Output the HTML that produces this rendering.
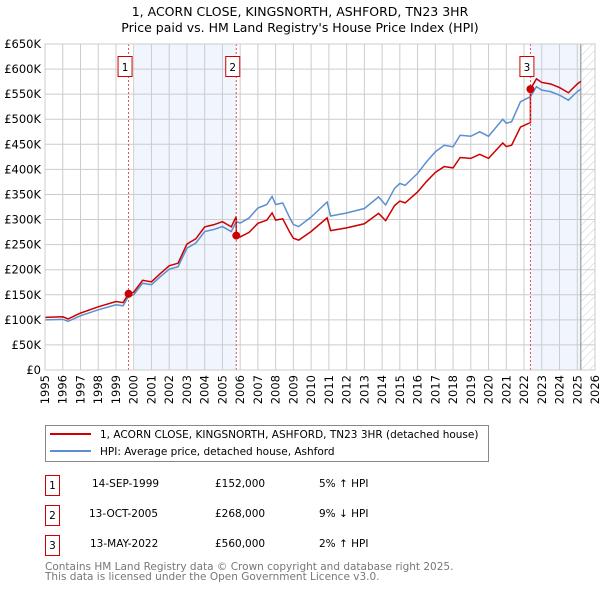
<!DOCTYPE html>
<html><head><meta charset="utf-8"><style>
body{margin:0;background:#fff;font-family:"DejaVu Sans","Liberation Sans",sans-serif}
svg text{font-family:"DejaVu Sans","Liberation Sans",sans-serif}
</style></head><body>
<svg id="chart" width="600" height="590" xmlns="http://www.w3.org/2000/svg">
<defs><pattern id="hatch" width="6" height="6" patternUnits="userSpaceOnUse" patternTransform="rotate(45)"><line x1="0" y1="0" x2="0" y2="6" stroke="#ccc" stroke-width="1"/></pattern></defs>
<text x="300" y="16" text-anchor="middle" font-size="12.5">1, ACORN CLOSE, KINGSNORTH, ASHFORD, TN23 3HR</text>
<text x="300" y="32" text-anchor="middle" font-size="12.5">Price paid vs. HM Land Registry's House Price Index (HPI)</text>
<g id="plot"></g>
<g>
<rect x="45.5" y="425.5" width="443" height="36" fill="#fff" stroke="#888"/>
<line x1="50" y1="434" x2="91" y2="434" stroke="#cc0000" stroke-width="2"/>
<text x="100" y="438" font-size="10.5">1, ACORN CLOSE, KINGSNORTH, ASHFORD, TN23 3HR (detached house)</text>
<line x1="50" y1="451" x2="91" y2="451" stroke="#5b8fd0" stroke-width="2"/>
<text x="100" y="455" font-size="10.5">HPI: Average price, detached house, Ashford</text>
</g>
<g font-size="10.5">
<rect x="45.5" y="475.5" width="14" height="20" fill="#fff" stroke="#cc0000"/><text x="52.5" y="489" text-anchor="middle">1</text>
<text x="92" y="487">14-SEP-1999</text><text x="215" y="487">£152,000</text><text x="319" y="487">5% ↑ HPI</text>
<rect x="45.5" y="505.5" width="14" height="20" fill="#fff" stroke="#cc0000"/><text x="52.5" y="519" text-anchor="middle">2</text>
<text x="89" y="517">13-OCT-2005</text><text x="215" y="517">£268,000</text><text x="319" y="517">9% ↓ HPI</text>
<rect x="45.5" y="535.5" width="14" height="20" fill="#fff" stroke="#cc0000"/><text x="52.5" y="549" text-anchor="middle">3</text>
<text x="90" y="547">13-MAY-2022</text><text x="215" y="547">£560,000</text><text x="319" y="547">2% ↑ HPI</text>
</g>
<text x="45" y="570" font-size="10.5" fill="#777">Contains HM Land Registry data © Crown copyright and database right 2025.</text>
<text x="45" y="580" font-size="10.5" fill="#777">This data is licensed under the Open Government Licence v3.0.</text>
</svg>
<script>
const hpiYears=[1995,1996,1996.3,1997,1998,1999,1999.4,1999.71,2000,2000.5,2001,2001.5,2002,2002.5,2003,2003.5,2004,2004.5,2005,2005.5,2005.78,2006,2006.5,2007,2007.5,2007.8,2008,2008.4,2008.8,2009,2009.3,2010,2010.9,2011.1,2012,2013,2013.8,2014.2,2014.7,2015,2015.3,2016,2016.5,2017,2017.5,2018,2018.4,2019,2019.5,2020,2020.8,2021,2021.3,2021.8,2022.36,2022.7,2023,2023.5,2024,2024.5,2025,2025.2];
const hpiValues=[100,101,97,108,120,130,128,147,150,173,170,186,201,206,243,253,276,280,286,276,296,293,303,323,330,346,330,333,303,290,286,305,335,307,313,322,345,329,362,372,368,392,415,435,448,445,468,466,475,466,500,492,495,535,545,565,558,555,548,538,555,560];
const saleYears=[1999.71,2005.78,2022.36];
const salePrices=[152,268,560];
const saleLabels=["1","2","3"];
const yTicks=[0,50,100,150,200,250,300,350,400,450,500,550,600,650];
const xTicks=[1995,1996,1997,1998,1999,2000,2001,2002,2003,2004,2005,2006,2007,2008,2009,2010,2011,2012,2013,2014,2015,2016,2017,2018,2019,2020,2021,2022,2023,2024,2025,2026];
const NS="http://www.w3.org/2000/svg";
const X0=45,X1=595,Y0=370,Y1=44;
const xs=y=>X0+(y-1995)/(2026-1995)*(X1-X0);
const ys=v=>Y0-v/650*(Y0-Y1);
const g=document.getElementById('plot');
function mk(t,a){const e=document.createElementNS(NS,t);for(const k in a)e.setAttribute(k,a[k]);g.appendChild(e);return e;}
function hpiAt(y){for(let i=0;i<hpiYears.length-1;i++){if(y<=hpiYears[i+1]){const f=(y-hpiYears[i])/(hpiYears[i+1]-hpiYears[i]);return hpiValues[i]+f*(hpiValues[i+1]-hpiValues[i]);}}return hpiValues[hpiValues.length-1];}
let r=mk('rect',{x:xs(saleYears[0])+6,y:Y1,width:xs(saleYears[1])-xs(saleYears[0])-6,height:Y0-Y1,fill:'#eef3fc',opacity:0.8});

r=mk('rect',{x:xs(saleYears[2]),y:Y1,width:xs(2025.2)-xs(saleYears[2]),height:Y0-Y1,fill:'#eef3fc',opacity:0.8});

r=mk('rect',{x:xs(2025.2),y:Y1,width:X1-xs(2025.2),height:Y0-Y1,fill:'url(#hatch)'});

yTicks.forEach(v=>{const l=mk('line',{x1:X0,x2:X1,y1:ys(v),y2:ys(v),stroke:'#ccc'});

const t=mk('text',{x:X0-4,y:ys(v)+4,'text-anchor':'end','font-size':11.5});t.textContent=v===0?'£0':'£'+v+'K';
});
xTicks.forEach(y=>{const l=mk('line',{x1:xs(y),x2:xs(y),y1:Y1,y2:Y0,stroke:'#ccc'});

const t=mk('text',{x:0,y:0,'text-anchor':'end','font-size':11.5,transform:`translate(${xs(y)+4},${Y0+5}) rotate(-90)`});t.textContent=y;
});
let vl=mk('line',{x1:xs(2025.2),x2:xs(2025.2),y1:Y1,y2:Y0,stroke:'#888'});

const hp=mk('polyline',{points:hpiYears.map((y,i)=>xs(y)+','+ys(hpiValues[i])).join(' '),fill:'none',stroke:'#5b8fd0','stroke-width':1.5});

const pts=[];
hpiYears.forEach((y,i)=>{let k=0;while(k<saleYears.length-1&&y>=saleYears[k+1])k++;
const f=salePrices[k]/hpiAt(saleYears[k]);
if(saleYears.includes(y)&&saleYears.indexOf(y)>0){const j=saleYears.indexOf(y);const fp=salePrices[j-1]/hpiAt(saleYears[j-1]);pts.push([y,hpiValues[i]*fp]);}
pts.push([y,hpiValues[i]*(y<saleYears[0]?1.05:f)]);});
const rp=mk('polyline',{points:pts.map(p=>xs(p[0])+','+ys(p[1])).join(' '),fill:'none',stroke:'#cc0000','stroke-width':1.5});

saleYears.forEach((y,i)=>{const l=mk('line',{x1:xs(y),x2:xs(y),y1:Y1,y2:Y0,stroke:'#e05050','stroke-dasharray':'2,2'});

const c=mk('circle',{cx:xs(y),cy:ys(salePrices[i]),r:4,fill:'#cc0000'});

const b=mk('rect',{x:xs(y)-10.5,y:56.5,width:14,height:20,fill:'#fff',stroke:'#cc0000'});

const t=mk('text',{x:xs(y)-3.5,y:71,'text-anchor':'middle','font-size':10.5});t.textContent=saleLabels[i];
});
const ax=mk('rect',{x:X0,y:Y1,width:X1-X0,height:Y0-Y1,fill:'none',stroke:'#ccc'});

</script>
</body></html>
